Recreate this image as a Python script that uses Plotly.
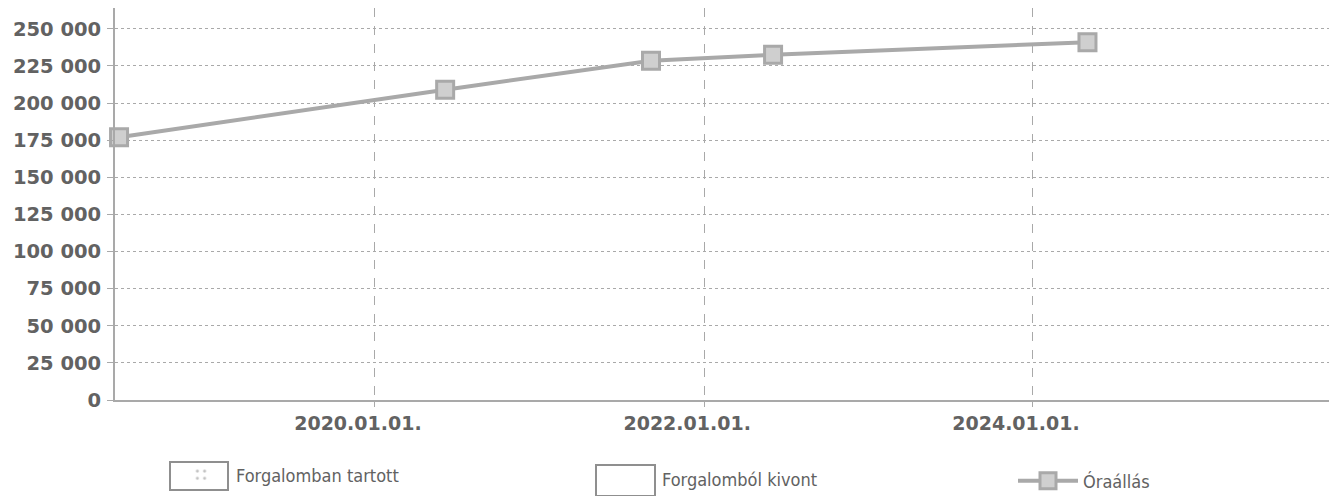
import plotly.graph_objects as go

dates = ["2018-06-12", "2020-06-05", "2021-09-05", "2022-06-03", "2024-05-01"]
oraallas = [177000, 209000, 228500, 232500, 241000]
y_ticks = [0, 25000, 50000, 75000, 100000, 125000, 150000, 175000, 200000, 225000, 250000]
series_names = ["Forgalomban tartott", "Forgalomból kivont", "Óraállás"]

W, H = 1329, 488
L, T, B = 107, 0, 96
PW, PH = W - L, H - T - B

gray = "#a9a9a9"
txt = "#626262"
font_cond = "DejaVu Sans Condensed, DejaVu Sans, sans-serif"
font_norm = "DejaVu Sans, sans-serif"

fig = go.Figure()
fig.add_trace(go.Bar(x=[None], y=[None], name=series_names[0], legend="legend",
                     marker=dict(color="white", line=dict(color="white", width=0),
                                 pattern=dict(shape=".", fgcolor="#888888", size=9, solidity=0.15))))
fig.add_trace(go.Bar(x=[None], y=[None], name=series_names[1], legend="legend2",
                     marker=dict(color="white", line=dict(color="white", width=0))))
fig.add_trace(go.Scatter(x=dates, y=oraallas, name=series_names[2], mode="lines+markers",
                         legend="legend3", cliponaxis=False,
                         line=dict(color=gray, width=4),
                         marker=dict(symbol="square", size=17, color="#cfcfcf",
                                     line=dict(color=gray, width=3))))


def px2paper_x(fx):
    return (fx - L) / PW


def px2paper_y(fy):
    return (H - B - fy) / PH


# large legend boxes (legend swatches, in figure pixels)
for (x0, x1, y0, y1) in [(162, 220, 454, 482), (588, 647, 457, 488)]:
    fig.add_shape(type="rect", xref="paper", yref="paper",
                  x0=px2paper_x(x0), x1=px2paper_x(x1),
                  y0=px2paper_y(y1), y1=px2paper_y(y0),
                  line=dict(color="#8f8f8f", width=2), fillcolor="rgba(0,0,0,0)",
                  layer="above")

leg_common = dict(orientation="h", xref="container", yref="container",
                  yanchor="middle", xanchor="left", itemwidth=60,
                  font=dict(size=18, color=txt, family=font_cond), bgcolor="rgba(0,0,0,0)")

fig.update_layout(
    width=W, height=H,
    margin=dict(l=L, r=0, t=T, b=B, autoexpand=False),
    paper_bgcolor="white", plot_bgcolor="white",
    separators=". ",
    font=dict(family=font_norm, color=txt),
    showlegend=True,
    legend=dict(x=158 / W, y=1 - 467 / H, **leg_common),
    legend2=dict(x=584 / W, y=1 - 471 / H, **leg_common),
    legend3=dict(x=1005 / W, y=1 - 473 / H, **leg_common),
    xaxis=dict(type="date", range=["2018-06-03", "2025-11-06"], automargin=False,
               tick0="2020-01-01", dtick="M24", tickformat="%Y.%m.%d.",
               ticklabelshift=-17,
               showgrid=True, gridcolor=gray, griddash="dash", gridwidth=1,
               showline=True, linecolor=gray, linewidth=2,
               ticks="outside", ticklen=5, tickcolor=gray,
               tickfont=dict(size=19, color=txt, family=font_norm, weight="bold"),
               zeroline=False),
    yaxis=dict(range=[0, 264000], tickvals=y_ticks, tickformat=",d", automargin=False,
               showgrid=True, gridcolor=gray, griddash="dot", gridwidth=1,
               showline=True, linecolor=gray, linewidth=2,
               ticks="outside", ticklen=6, tickcolor=gray, ticklabelstandoff=2,
               tickfont=dict(size=19.5, color=txt, family=font_norm, weight="bold"),
               zeroline=False),
)

fig.write_html("out.html")
